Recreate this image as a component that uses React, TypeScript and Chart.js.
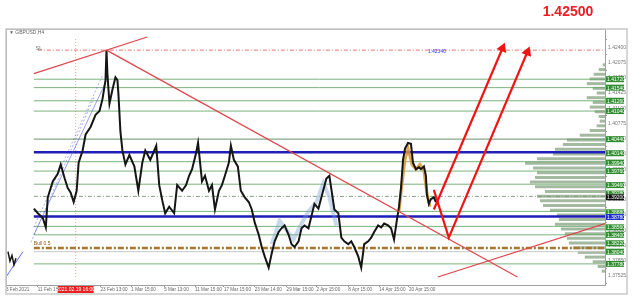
import React, { useEffect, useRef } from "react";
import { Chart, registerables } from "chart.js";

Chart.register(...registerables);

const TITLE = "1.42500";
const SYMBOL = "\u25BC GBPUSD,H4";

// bar index (time) and close prices of the main price path
const barIdx = [28,32,37,40,42,47,52,55,59,62,65,68,71,73,77,80,85,90,94,97,100,101,102,104,107,110,112,113,115,117,120,124,129,133,137,140,145,151,154,157,160,164,169,172,177,181,184,187,191,193,197,200,204,207,210,214,217,220,224,226,229,233,236,240,244,247,250,254,257,260,264,267,270,274,277,280,284,287,290,294,297,300,304,307,310,314,317,322,325,330,334,337,340,344,347,350,354,357,360,364,367,370,374,377,380,384,387,390,393,395,397,399,401,404,407,409,412,415,417,420,422,423,425,427,430,432];
const closes = [1.3896,1.3886,1.3876,1.3856,1.3920,1.3954,1.3970,1.3990,1.3960,1.3940,1.3930,1.3910,1.3934,1.3994,1.4020,1.4054,1.4070,1.4096,1.4104,1.4130,1.4170,1.4234,1.4180,1.4120,1.4150,1.4176,1.4170,1.4140,1.4060,1.4020,1.3990,1.4010,1.3986,1.3934,1.3994,1.4020,1.4000,1.4030,1.3946,1.3914,1.3886,1.3900,1.3886,1.3946,1.3934,1.3946,1.3966,1.3980,1.4014,1.4036,1.3954,1.3966,1.3934,1.3946,1.3894,1.3934,1.3946,1.3966,1.3994,1.4030,1.4000,1.3986,1.3934,1.3920,1.3910,1.3894,1.3866,1.3840,1.3814,1.3794,1.3770,1.3800,1.3826,1.3846,1.3854,1.3860,1.3840,1.3820,1.3814,1.3826,1.3854,1.3860,1.3854,1.3880,1.3906,1.3896,1.3920,1.3960,1.3966,1.3894,1.3886,1.3834,1.3826,1.3820,1.3826,1.3814,1.3794,1.3770,1.3820,1.3826,1.3834,1.3846,1.3860,1.3856,1.3864,1.3860,1.3854,1.3830,1.3874,1.3900,1.3940,1.4000,1.4024,1.4036,1.4034,1.3994,1.3980,1.3984,1.3980,1.3986,1.3966,1.3926,1.3906,1.3916,1.3920,1.3910];

const earlyIdx = [2, 4, 6, 8, 10];
const earlyCloses = [1.3804, 1.3784, 1.3796, 1.3776, 1.3790];

// coloured indicator overlays
const orangeIdx = [395, 398, 401, 404, 408, 412, 416, 420, 423, 426];
const orangeVals = [1.3890, 1.3950, 1.4000, 1.4024, 1.3990, 1.3980, 1.3990, 1.3976, 1.3930, 1.3900];
const lightBlueIdx = [267, 275, 282, 289, 297, 304, 312, 319, 325, 332];
const lightBlueVals = [1.3820, 1.3870, 1.3850, 1.3830, 1.3864, 1.3890, 1.3910, 1.3950, 1.3920, 1.3860];

// axis
const X_MAX = 602;
const Y_MIN = 1.3750;
const Y_MAX = 1.4262;
const timeTickIdx = [0, 32, 95, 126, 159, 190, 219, 250, 282, 312, 344, 375, 405];
const timeTickLabels = ["3 Feb 2021", "11 Feb 15:00", "23 Feb 13:00", "1 Mar 15:00", "5 Mar 13:00", "11 Mar 15:00", "17 Mar 15:00", "23 Mar 14:00", "29 Mar 15:00", "2 Apr 15:00", "8 Apr 15:00", "14 Apr 15:00", "20 Apr 15:00"];
const cursorIdx = 70;
const cursorLabel = "2021.02.19 16:00";
const priceTicks = [1.424, 1.42075, 1.4175, 1.41425, 1.411, 1.40775, 1.4045, 1.40125, 1.398, 1.39475, 1.3915, 1.38825, 1.385, 1.38175, 1.3785, 1.37525];

// horizontal levels
const LINE_START = 28;
const greenLevels = [1.4172, 1.4154, 1.4126, 1.4104, 1.3996, 1.3976, 1.3948, 1.3890, 1.3858, 1.3840, 1.3778];
const greyGreenLevels = [1.4044];
const blueLevels = [1.4016, 1.3879];
const dashedLevel = 1.3922;
const brownLevel = 1.3812;
const greyLevel = 1.3804;
const peakLevel = 1.4234;
const greenBoxLevels = [1.4172, 1.4154, 1.4126, 1.4104, 1.4044, 1.4014, 1.3994, 1.3976, 1.3946, 1.3928, 1.3888, 1.3856, 1.3840, 1.3822, 1.3804, 1.3778];
const blueBoxLevels = [1.3878];
const blackBoxLevels = [1.3920];

// trend lines [idx, price]
const redLine1 = [[28, 1.4184], [142, 1.4262]];
const redLine2 = [[101, 1.4234], [514, 1.3750]];
const redLine3 = [[434, 1.3750], [602, 1.3864]];
const arrowA = [[430, 1.3894], [499, 1.4238]];
const arrowB = [[430, 1.3936], [445, 1.3834], [524, 1.4230]];
const fan1 = [[28, 1.3840], [99, 1.4160]];
const fan2 = [[28, 1.3856], [97, 1.4180]];
const fan3 = [[25, 1.3824], [89, 1.4136]];
const blueStart = [[0, 1.3750], [17, 1.3804]];

// volume profile
const profileLevels = [1.4200,1.4190,1.4180,1.4170,1.4160,1.4150,1.4140,1.4130,1.4120,1.4110,1.4100,1.4090,1.4080,1.4070,1.4060,1.4050,1.4040,1.4030,1.4020,1.4010,1.4000,1.3990,1.3980,1.3970,1.3960,1.3950,1.3940,1.3930,1.3920,1.3910,1.3900,1.3890,1.3880,1.3870,1.3860,1.3850,1.3840,1.3830,1.3820,1.3810,1.3800,1.3790,1.3780,1.3770,1.3760];
const profileVol = [2,6,11,15,18,12,8,18,12,15,10,6,5,8,15,25,38,42,50,52,68,80,72,68,70,75,70,60,68,65,62,55,48,46,50,44,40,38,36,32,27,20,12,7,3];

const FONT = '"Liberation Sans", Arial, sans-serif';

const pts = (arr: number[][]) => arr.map(([x, y]) => ({ x, y }));

export default function App() {
  const ref = useRef<HTMLCanvasElement>(null);

  useEffect(() => {
    const canvas = ref.current;
    if (!canvas) return;

    const line = (data: any[], color: string, width: number, order: number, extra: any = {}) => ({
      type: "line",
      data,
      borderColor: color,
      backgroundColor: color,
      borderWidth: width,
      pointRadius: 0,
      pointHoverRadius: 0,
      fill: false,
      tension: 0,
      xAxisID: "x",
      yAxisID: "y",
      order,
      ...extra,
    });
    const hLine = (lvl: number) => [{ x: LINE_START, y: lvl }, { x: X_MAX, y: lvl }];

    const datasets: any[] = [];
    datasets.push({
      type: "bar",
      indexAxis: "y",
      xAxisID: "xv",
      yAxisID: "y",
      data: profileLevels.map((p, i) => ({ x: profileVol[i], y: p })),
      backgroundColor: "rgba(132,162,128,0.75)",
      borderWidth: 0,
      barPercentage: 1,
      categoryPercentage: 1,
      order: 30,
    });
    greenLevels.forEach((l) => datasets.push(line(hLine(l), "rgba(100,165,100,0.85)", 1, 20)));
    greyGreenLevels.forEach((l) => datasets.push(line(hLine(l), "rgba(125,155,125,0.9)", 1.2, 20)));
    datasets.push(line(hLine(dashedLevel), "rgba(120,150,120,0.9)", 1, 20, { borderDash: [4, 2, 1, 2] }));
    datasets.push(line(hLine(greyLevel), "#c8c8c8", 1, 20));
    datasets.push(line(hLine(brownLevel), "#a8762a", 2.5, 19, { borderDash: [6, 2, 2, 2] }));
    blueLevels.forEach((l) => datasets.push(line(hLine(l), "#1e1eb8", 2.6, 18)));
    datasets.push(line([{ x: 32, y: peakLevel }, { x: X_MAX, y: peakLevel }], "rgba(235,90,90,0.85)", 1, 18, { borderDash: [4, 2, 1, 2] }));
    datasets.push(line([{ x: cursorIdx, y: Y_MIN }, { x: cursorIdx, y: Y_MAX }], "rgba(230,90,90,0.55)", 1, 18, { borderDash: [1, 2] }));
    datasets.push(line(pts(fan1), "rgba(70,80,220,0.55)", 1, 15));
    datasets.push(line(pts(fan2), "rgba(70,80,220,0.45)", 1, 15, { borderDash: [2, 2] }));
    datasets.push(line(pts(fan3), "rgba(70,80,220,0.45)", 1, 15, { borderDash: [2, 2] }));
    datasets.push(line(pts(blueStart), "rgba(60,70,220,0.8)", 1, 15));
    datasets.push(line(lightBlueIdx.map((x, i) => ({ x, y: lightBlueVals[i] })), "rgba(120,160,210,0.4)", 4, 12));
    datasets.push(line(orangeIdx.map((x, i) => ({ x, y: orangeVals[i] })), "rgba(215,150,50,0.85)", 3, 12));
    datasets.push(line(barIdx.map((x, i) => ({ x, y: closes[i] })), "#151515", 2, 8));
    datasets.push(line(earlyIdx.map((x, i) => ({ x, y: earlyCloses[i] })), "#151515", 1.5, 8));
    datasets.push(line(pts(redLine1), "#e0454a", 1.2, 6));
    datasets.push(line(pts(redLine2), "#e0454a", 1.2, 6));
    datasets.push(line(pts(redLine3), "#e0454a", 1.2, 6));
    datasets.push(line(pts(arrowA), "#f01414", 2.2, 2, {
      pointRadius: (c: any) => (c.dataIndex === arrowA.length - 1 ? 6 : 0),
      pointStyle: "triangle",
      pointRotation: 22,
      pointBorderWidth: 0,
      pointBackgroundColor: "#f01414",
    }));
    datasets.push(line(pts(arrowB), "#f01414", 2.2, 2, {
      pointRadius: (c: any) => (c.dataIndex === arrowB.length - 1 ? 6 : 0),
      pointStyle: "triangle",
      pointRotation: 21.5,
      pointBorderWidth: 0,
      pointBackgroundColor: "#f01414",
    }));

    const decor = {
      id: "decor",
      afterDraw(chart: any) {
        const { ctx, chartArea: a, scales } = chart;
        const ys = scales.y;
        const xs = scales.x;
        ctx.save();
        ctx.strokeStyle = "#a0a0a0";
        ctx.lineWidth = 1;
        ctx.strokeRect(a.left + 0.5, a.top + 0.5, a.right - a.left, a.bottom - a.top);
        ctx.strokeStyle = "#c8c8c8";
        ctx.lineWidth = 1.5;
        ctx.strokeRect(a.left, a.top, a.right - a.left + 22, a.bottom - a.top + 9);

        ctx.font = `5px ${FONT}`;
        ctx.textAlign = "left";
        ctx.textBaseline = "middle";
        const box = (lvl: number, bg: string) => {
          const py = ys.getPixelForValue(lvl);
          ctx.fillStyle = bg;
          ctx.fillRect(a.right + 1, py - 3, 18, 6);
          ctx.fillStyle = "#ffffff";
          ctx.fillText(lvl.toFixed(5), a.right + 2, py + 0.5);
        };
        greenBoxLevels.forEach((l) => box(l, "#2f8f2f"));
        blueBoxLevels.forEach((l) => box(l, "#2030d0"));
        blackBoxLevels.forEach((l) => box(l, "#111111"));

        const cx = xs.getPixelForValue(cursorIdx);
        ctx.fillStyle = "#e8201e";
        ctx.fillRect(cx - 18, a.bottom + 1, 36, 7);
        ctx.fillStyle = "#ffffff";
        ctx.textAlign = "center";
        ctx.fillText(cursorLabel, cx, a.bottom + 4.5);

        ctx.textAlign = "left";
        ctx.fillStyle = "#666";
        ctx.fillText(SYMBOL, a.left + 3, a.top + 4);
        ctx.fillText("SL", xs.getPixelForValue(30), ys.getPixelForValue(peakLevel) - 2);
        ctx.fillStyle = "#3040e0";
        ctx.fillText(peakLevel.toFixed(5), xs.getPixelForValue(424), ys.getPixelForValue(peakLevel) + 1);
        ctx.fillStyle = "#8a5a10";
        ctx.fillText("Bull 0.5", xs.getPixelForValue(LINE_START), ys.getPixelForValue(brownLevel) - 4);

        ctx.font = `bold 14px ${FONT}`;
        ctx.fillStyle = "#ee1c24";
        ctx.textAlign = "center";
        ctx.textBaseline = "alphabetic";
        ctx.fillText(TITLE, 568, 16);
        ctx.restore();
      },
    };

    const chart = new Chart(canvas, {
      type: "line",
      data: { datasets },
      options: {
        responsive: false,
        animation: false,
        events: [],
        layout: { padding: { left: 3, top: 29, right: 15, bottom: 12 } },
        plugins: { legend: { display: false }, tooltip: { enabled: false }, title: { display: false } },
        scales: {
          x: {
            type: "linear",
            position: "bottom",
            min: 0,
            max: X_MAX,
            afterBuildTicks: (s: any) => {
              s.ticks = timeTickIdx.map((v) => ({ value: v }));
            },
            afterFit: (s: any) => {
              s.height = 9;
            },
            ticks: {
              autoSkip: false,
              maxRotation: 0,
              minRotation: 0,
              align: "start",
              padding: 0,
              font: { size: 4.6, family: FONT },
              color: "#666",
              callback: (v: any) => {
                const i = timeTickIdx.indexOf(v);
                return i >= 0 ? timeTickLabels[i] : "";
              },
            },
            grid: { display: true, drawOnChartArea: false, tickLength: 2, color: "#999" },
            border: { display: false },
          },
          xv: {
            type: "linear",
            axis: "x",
            position: "bottom",
            display: false,
            reverse: true,
            min: 0,
            max: X_MAX,
          },
          y: {
            type: "linear",
            position: "right",
            min: Y_MIN,
            max: Y_MAX,
            afterBuildTicks: (s: any) => {
              s.ticks = priceTicks.map((v) => ({ value: v }));
            },
            afterFit: (s: any) => {
              s.width = 22;
            },
            ticks: {
              autoSkip: false,
              padding: 1,
              font: { size: 5, family: FONT },
              color: "#777",
              callback: (v: any) => Number(v).toFixed(5),
            },
            grid: { display: true, drawOnChartArea: false, tickLength: 2, color: "#999" },
            border: { display: false },
          },
        },
      } as any,
      plugins: [decor],
    } as any);

    return () => chart.destroy();
  }, []);

  return (
    <div style={{ position: "fixed", left: 0, top: 0, width: 642, height: 306, background: "#ffffff" }}>
      <canvas ref={ref} width={642} height={306} style={{ display: "block", width: 642, height: 306 }} />
    </div>
  );
}
